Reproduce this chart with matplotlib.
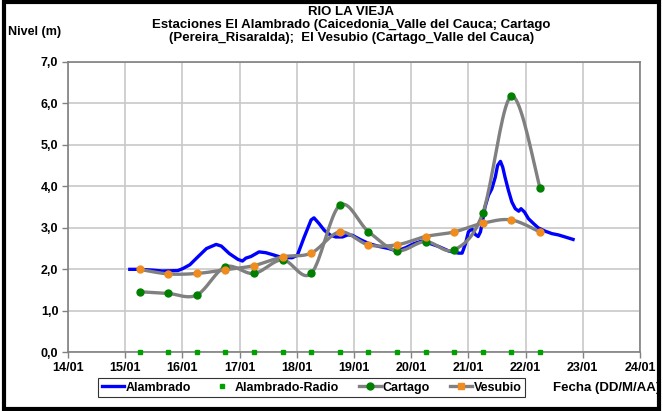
import numpy as np
import matplotlib
matplotlib.use("Agg")
import matplotlib.pyplot as plt
from matplotlib.lines import Line2D
from matplotlib.patches import Rectangle
from matplotlib.ticker import FuncFormatter, MultipleLocator

plt.rcParams['font.family'] = ['Liberation Sans', 'DejaVu Sans']
plt.rcParams['font.weight'] = 'bold'

# dias de enero (fraccion del dia)
alambrado_dia = [15.08, 15.25, 15.49, 15.65, 15.92, 16.01, 16.13, 16.27, 16.42, 16.59,
                 16.68, 16.82, 16.97, 17.05, 17.11, 17.20, 17.34, 17.46, 17.61, 17.75,
                 17.92, 18.01, 18.13, 18.25, 18.30, 18.39, 18.48, 18.59, 18.68, 18.80,
                 18.89, 18.97, 19.12, 19.26, 19.44, 19.61, 19.75, 19.90, 20.05, 20.19,
                 20.31, 20.48, 20.66, 20.83, 20.89, 20.95, 21.00, 21.06, 21.12, 21.17,
                 21.21, 21.25, 21.29, 21.35, 21.41, 21.47, 21.51, 21.56, 21.60, 21.64,
                 21.70, 21.76, 21.82, 21.88, 21.92, 21.98, 22.05, 22.14, 22.22, 22.34,
                 22.46, 22.57, 22.69, 22.83]
alambrado_nivel = [2.00, 2.00, 1.98, 1.96, 1.97, 2.02, 2.11, 2.30, 2.50, 2.60,
                   2.56, 2.38, 2.24, 2.20, 2.27, 2.31, 2.42, 2.40, 2.34, 2.28,
                   2.28, 2.34, 2.78, 3.19, 3.24, 3.10, 2.94, 2.82, 2.78, 2.78,
                   2.83, 2.82, 2.71, 2.62, 2.55, 2.50, 2.44, 2.52, 2.62, 2.68,
                   2.63, 2.55, 2.44, 2.39, 2.39, 2.62, 2.90, 2.98, 2.84, 2.79,
                   2.90, 3.18, 3.50, 3.78, 3.94, 4.22, 4.50, 4.60, 4.46, 4.22,
                   3.90, 3.62, 3.46, 3.40, 3.46, 3.38, 3.22, 3.10, 3.00, 2.92,
                   2.86, 2.83, 2.78, 2.72]

radio_dia = [15.25, 15.75, 16.25, 16.75, 17.25, 17.75, 18.25, 18.75, 19.25, 19.75,
             20.25, 20.75, 21.25, 21.75, 22.25]
radio_nivel = [0.0] * 15

estacion_dia = [15.25, 15.75, 16.25, 16.75, 17.25, 17.75, 18.25, 18.75, 19.25, 19.75,
                20.25, 20.75, 21.25, 21.75, 22.25]
cartago_nivel = [1.46, 1.42, 1.38, 2.06, 1.90, 2.23, 1.90, 3.54, 2.91, 2.45,
                 2.67, 2.47, 3.35, 6.17, 3.97]
vesubio_nivel = [2.00, 1.89, 1.90, 1.99, 2.09, 2.30, 2.39, 2.90, 2.59, 2.59,
                 2.79, 2.90, 3.11, 3.19, 2.90]


def suavizar(x, y, n=20):
    # curva suavizada tipo Excel (Catmull-Rom)
    x = np.asarray(x, float)
    y = np.asarray(y, float)
    px = np.concatenate([[x[0]], x, [x[-1]]])
    py = np.concatenate([[y[0]], y, [y[-1]]])
    xs, ys = [], []
    t = np.linspace(0, 1, n, endpoint=False)
    for i in range(1, len(px) - 2):
        for arr, out in ((px, xs), (py, ys)):
            p0, p1, p2, p3 = arr[i - 1], arr[i], arr[i + 1], arr[i + 2]
            out.extend(0.5 * ((2 * p1) + (-p0 + p2) * t
                              + (2 * p0 - 5 * p1 + 4 * p2 - p3) * t ** 2
                              + (-p0 + 3 * p1 - 3 * p2 + p3) * t ** 3))
    xs.append(x[-1])
    ys.append(y[-1])
    return xs, ys


fig = plt.figure(figsize=(6.63, 4.11), dpi=100)
ax = fig.add_axes([0.1026, 0.1426, 0.8627, 0.7073])

gris = '#808080'
verde = '#008000'
naranja = '#F08C1E'

ax.plot(alambrado_dia, alambrado_nivel, color='#0000FF', lw=2.4, solid_joinstyle='round', zorder=3)
ax.plot(radio_dia, radio_nivel, ls='none', marker='s', ms=2.5, color='#00A000', zorder=4, clip_on=False)

cx, cy = suavizar(estacion_dia, cartago_nivel)
ax.plot(cx, cy, color=gris, lw=2.4, zorder=4)
ax.plot(estacion_dia, cartago_nivel, ls='none', marker='o', ms=5, color=verde, zorder=5)

vx, vy = suavizar(estacion_dia, vesubio_nivel)
ax.plot(vx, vy, color=gris, lw=2.4, zorder=4)
ax.plot(estacion_dia, vesubio_nivel, ls='none', marker='o', ms=5, color=naranja, zorder=5)

ax.set_xlim(14, 24)
ax.set_ylim(0, 7)
ax.xaxis.set_major_locator(MultipleLocator(1))
ax.yaxis.set_major_locator(MultipleLocator(1))
ax.xaxis.set_major_formatter(FuncFormatter(lambda v, p: f"{int(round(v)):02d}/01"))
ax.yaxis.set_major_formatter(FuncFormatter(lambda v, p: f"{v:.1f}".replace('.', ',')))
ax.grid(True, color='#C8C8C8', lw=1.2)
ax.set_axisbelow(True)
for s in ax.spines.values():
    s.set_color(gris)
    s.set_linewidth(1.2)
ax.tick_params(axis='both', colors='black', labelsize=9, length=4, width=1, direction='out', color=gris)
ax.tick_params(axis='x', pad=3)
ax.tick_params(axis='y', pad=3)

fs_titulo = 9.5
fig.text(0.530, 0.972, "RIO LA VIEJA", ha='center', va='center', fontsize=fs_titulo, fontweight='bold')
fig.text(0.530, 0.940, "Estaciones El Alambrado (Caicedonia_Valle del Cauca; Cartago", ha='center', va='center', fontsize=fs_titulo, fontweight='bold')
fig.text(0.530, 0.908, "(Pereira_Risaralda);  El Vesubio (Cartago_Valle del Cauca)", ha='center', va='center', fontsize=fs_titulo, fontweight='bold')
fig.text(0.012, 0.922, "Nivel (m)", ha='left', va='center', fontsize=9, fontweight='bold')
fig.text(0.996, 0.056, "Fecha (DD/M/AA)", ha='right', va='center', fontsize=9.5, fontweight='bold')

handles = [
    Line2D([], [], color='#0000FF', lw=2.4),
    Line2D([], [], ls='none', marker='s', ms=2.5, color='#00A000'),
    Line2D([], [], color=gris, lw=2.4, marker='o', ms=5, mfc=verde, mec=verde),
    Line2D([], [], color=gris, lw=2.4, marker='s', ms=4, mfc=naranja, mec=naranja),
]
leg = fig.legend(handles, ['Alambrado', 'Alambrado-Radio', 'Cartago', 'Vesubio'],
                 loc='center', bbox_to_anchor=(0.470, 0.057), ncol=4, fontsize=9,
                 frameon=True, fancybox=False, handlelength=1.8, handletextpad=0.1,
                 columnspacing=1.6, borderpad=0.3, borderaxespad=0, edgecolor='black')
leg.get_frame().set_linewidth(0.8)

fig.patches.append(Rectangle((0.006, 0.006), 0.988, 0.988, transform=fig.transFigure,
                             fill=False, edgecolor='black', lw=3))

fig.savefig('out.png', dpi=100)
